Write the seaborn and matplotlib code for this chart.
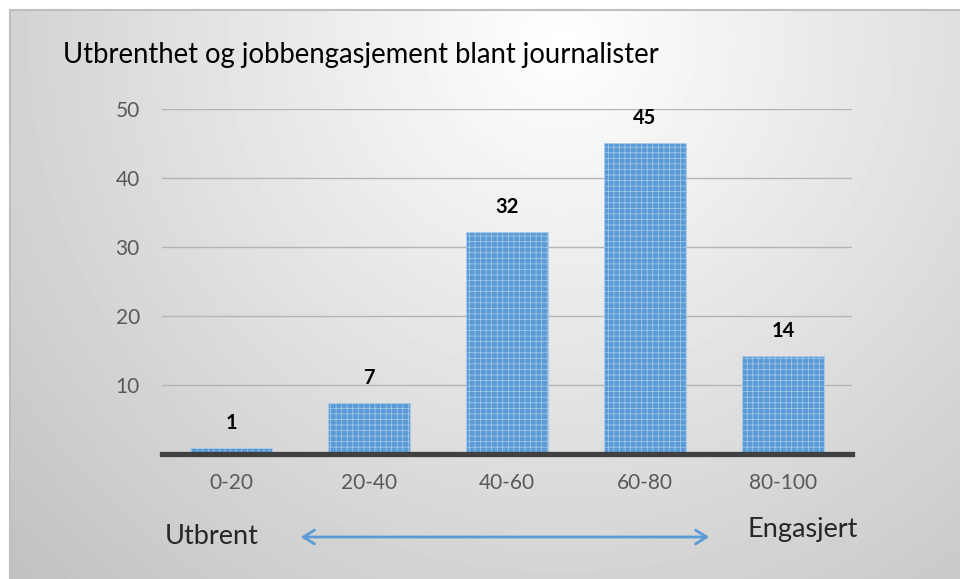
import numpy as np
import pandas as pd
import seaborn as sns
import matplotlib.pyplot as plt
from matplotlib.patches import FancyArrowPatch

# data
kategorier = ["0-20", "20-40", "40-60", "60-80", "80-100"]
verdier = [0.8, 7.3, 32.2, 45.1, 14.2]
etiketter = ["1", "7", "32", "45", "14"]
y_ticks = [10, 20, 30, 40, 50]

sns.set_style("white")
plt.rcParams["font.family"] = ["Lato", "DejaVu Sans"]
plt.rcParams["hatch.linewidth"] = 0.5

blaa = "#5B9BD5"

fig = plt.figure(figsize=(9.6, 5.79), dpi=100)
fig.patch.set_facecolor("white")

# radial grey background
ax_bg = fig.add_axes([10 / 960, 0, 950 / 960, 569 / 579])
xx, yy = np.meshgrid(np.arange(950) + 10, np.arange(569) + 10)
d = np.sqrt((xx - 560) ** 2 + (yy - 40) ** 2)
grad = 1.0 - (1.0 - 0.76) * np.clip(d / 760, 0, 1)
ax_bg.imshow(grad, cmap="gray", vmin=0, vmax=1, aspect="auto", interpolation="bilinear")
ax_bg.set_xticks([])
ax_bg.set_yticks([])
for side, sp in ax_bg.spines.items():
    sp.set_visible(side in ("left", "top"))
    sp.set_color("#BFBFBF")
    sp.set_linewidth(1.5)

# main plot
ax = fig.add_axes([162 / 960, 1 - 453.5 / 579, 690 / 960, (453.5 - 109) / 579])
ax.set_facecolor("none")
df = pd.DataFrame({"kategori": kategorier, "verdi": verdier})
sns.barplot(data=df, x="kategori", y="verdi", color=blaa, width=0.6, ax=ax,
            saturation=1, zorder=3)
for p in ax.patches:
    p.set_facecolor(blaa)
    p.set_edgecolor("#A9CBEA")
    p.set_hatch("+++")
    p.set_linewidth(0.6)

for i, (v, t) in enumerate(zip(verdier, etiketter)):
    ax.annotate(t, (i, v), xytext=(0, 18), textcoords="offset points",
                ha="center", va="center", fontsize=14.5, fontweight="bold", color="black")

ax.set_xlim(-0.5, 4.5)
ax.set_ylim(0, 50)
ax.set_yticks(y_ticks)
ax.yaxis.grid(True, color="#B4B4B4", linewidth=1, zorder=0)
ax.set_axisbelow(True)
for side in ("left", "right", "top"):
    ax.spines[side].set_visible(False)
ax.spines["bottom"].set_color("#404040")
ax.spines["bottom"].set_linewidth(3.8)
ax.spines["bottom"].set_zorder(4)
ax.tick_params(axis="both", length=0, labelsize=15, labelcolor="#595959")
ax.tick_params(axis="y", pad=16)
ax.tick_params(axis="x", pad=14)
ax.set_xlabel("")
ax.set_ylabel("")

fig.text(63 / 960, 1 - 55 / 579, "Utbrenthet og jobbengasjement blant journalister",
         ha="left", va="center", fontsize=19.8, color="black")

fig.text(165 / 960, 1 - 537 / 579, "Utbrent", ha="left", va="center", fontsize=19.5)
fig.text(748 / 960, 1 - 530 / 579, "Engasjert", ha="left", va="center", fontsize=19.5)
fig.patches.append(FancyArrowPatch(
    (298 / 960, 1 - 537 / 579), (712 / 960, 1 - 537 / 579),
    transform=fig.transFigure, arrowstyle="<->,head_length=8,head_width=5",
    color=blaa, linewidth=2, mutation_scale=1))

fig.savefig("out.png", dpi=100)
